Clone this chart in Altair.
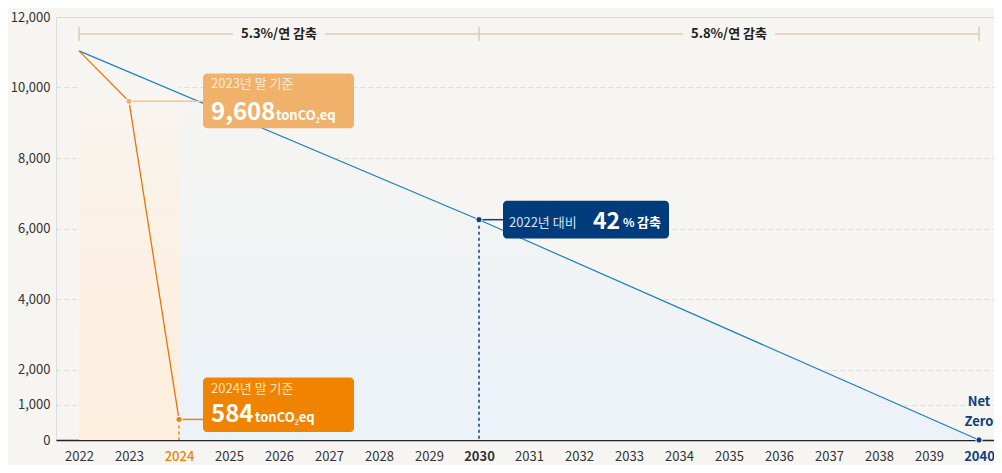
import altair as alt
import pandas as pd

# ---------------- data ----------------
years = list(range(2022, 2041))
blue_years = [2022, 2030, 2040]
blue_vals = [11040, 6250, 0]
orange_years = [2022, 2023, 2024]
orange_vals = [11040, 9608, 584]
y_ticks = [0, 1000, 2000, 4000, 6000, 8000, 10000, 12000]

# bracket annotation (5.3% / 5.8%)
bracket_y = 11520
bracket_seg_x = [2022, 2026.92, 2035.92]
bracket_seg_x2 = [2025.08, 2034.08, 2040]
bracket_ticks = [2022, 2030, 2040]
bracket_labels = ["5.3%/연 감축", "5.8%/연 감축"]
bracket_label_x = [2026.0, 2035.0]

# callout boxes
box_x = [2024.48, 2024.48, 2030.48]
box_x2 = [2027.5, 2027.5, 2033.8]
box_y = [8845, 225, 5718]
box_y2 = [10394, 1775, 6789]
box_col = ["#f0b26b", "#f08300", "#003b7c"]

BG = "#f7f5f1"
FONT = "Noto Sans CJK KR"
NAVY = "#0d3f80"
ORANGE = "#f08300"

xs = alt.Scale(domain=[2021.54, 2040.3], nice=False, zero=False)
ys = alt.Scale(domain=[0, 12000], nice=False)

xaxis = alt.Axis(
    values=years, format="d", title=None, ticks=False, grid=False,
    domainColor="#222222", domainWidth=1.5, labelFontSize=13, labelPadding=10,
    labelFont=FONT,
    labelColor={"expr": "datum.value == 2024 ? '#f08300' : datum.value == 2040 ? '#0d3f80' : '#333333'"},
    labelFontWeight={"expr": "(datum.value == 2030 || datum.value == 2040) ? 'bold' : (datum.value == 2024 ? 500 : 'normal')"},
)
yaxis = alt.Axis(
    values=y_ticks, format=",d", title=None, ticks=False, domain=False,
    grid=True, gridDash=[4, 4], gridColor="#d9d9d9", gridWidth=1,
    labelFontSize=13, labelPadding=6, labelColor="#333333", labelFont=FONT,
)


def X(f="x"):
    return alt.X(f"{f}:Q", scale=xs, axis=xaxis)


def Y(f="y"):
    return alt.Y(f"{f}:Q", scale=ys, axis=yaxis)


# ---------------- background tints ----------------
blue_df = pd.DataFrame({"x": blue_years, "y": blue_vals})
blue_area = alt.Chart(blue_df).mark_area(
    fill=alt.LinearGradient(
        gradient="linear", x1=0, y1=0, x2=0, y2=1,
        stops=[alt.GradientStop(color=BG, offset=0),
               alt.GradientStop(color="#f3f4f3", offset=0.35),
               alt.GradientStop(color="#ebf2f8", offset=1)],
    )
).encode(x=X(), y=Y())

orange_rect_df = pd.DataFrame({"x": [2022], "x2": [2024], "y": [0], "y2": [orange_vals[0]]})
orange_rect = alt.Chart(orange_rect_df).mark_rect(
    fill=alt.LinearGradient(
        gradient="linear", x1=0, y1=0, x2=0, y2=1,
        stops=[alt.GradientStop(color=BG, offset=0),
               alt.GradientStop(color=BG, offset=0.1),
               alt.GradientStop(color="#fbf1e5", offset=0.45),
               alt.GradientStop(color="#fdeedd", offset=1)],
    )
).encode(x=X(), x2="x2:Q", y=Y(), y2="y2:Q")

# ---------------- bracket ----------------
seg_df = pd.DataFrame({"x": bracket_seg_x, "x2": bracket_seg_x2, "y": [bracket_y] * 3})
bracket_segs = alt.Chart(seg_df).mark_rule(color="#dccbb4", strokeWidth=1.5).encode(
    x=X(), x2="x2:Q", y=Y())
tick_df = pd.DataFrame({"x": bracket_ticks, "y": [bracket_y - 200] * 3, "y2": [bracket_y + 200] * 3})
bracket_ticks_l = alt.Chart(tick_df).mark_rule(color="#dccbb4", strokeWidth=1.5).encode(
    x=X(), y=Y(), y2="y2:Q")
blab_df = pd.DataFrame({"x": bracket_label_x, "y": [bracket_y] * 2, "t": bracket_labels})
bracket_text = alt.Chart(blab_df).mark_text(
    font=FONT, fontSize=13, fontWeight="bold", color="#222222", baseline="middle", align="center"
).encode(x=X(), y=Y(), text="t:N")

# ---------------- lines ----------------
blue_line = alt.Chart(blue_df).mark_line(color="#1a7fc4", strokeWidth=1.2).encode(x=X(), y=Y())
orange_df = pd.DataFrame({"x": orange_years, "y": orange_vals})
orange_line = alt.Chart(orange_df).mark_line(color="#e8730f", strokeWidth=1.3).encode(x=X(), y=Y())

# dashed drops
drop_df = pd.DataFrame({"x": [2024, 2030], "y": [584, 6250], "y2": [0, 0], "c": [ORANGE, NAVY]})
drops = alt.Chart(drop_df).mark_rule(strokeDash=[3, 3], strokeWidth=1.5).encode(
    x=X(), y=Y(), y2="y2:Q", color=alt.Color("c:N", scale=None))

# connectors
conn_df = pd.DataFrame({"x": [2023, 2024, 2030], "x2": box_x, "y": [9608, 584, 6250],
                        "c": ["#f5c58a", ORANGE, NAVY]})
connectors = alt.Chart(conn_df).mark_rule(strokeWidth=1.5).encode(
    x=X(), x2="x2:Q", y=Y(), color=alt.Color("c:N", scale=None))

# boxes
box_df = pd.DataFrame({"x": box_x, "x2": box_x2, "y": box_y, "y2": box_y2, "c": box_col})
boxes = alt.Chart(box_df).mark_rect(cornerRadius=4).encode(
    x=X(), x2="x2:Q", y=Y(), y2="y2:Q", color=alt.Color("c:N", scale=None))

# dots
dot_df = pd.DataFrame({"x": [2023, 2024, 2030, 2040], "y": [9608, 584, 6250, 0],
                       "c": ["#f0b26b", ORANGE, NAVY, NAVY]})
dots = alt.Chart(dot_df).mark_point(filled=True, size=40, opacity=1, stroke="white", strokeWidth=1).encode(
    x=X(), y=Y(), fill=alt.Color("c:N", scale=None))


# ---------------- texts ----------------
def txt(xv, yv, t, size, weight, color, align="left", dx=0):
    d = pd.DataFrame({"x": [xv], "y": [yv], "t": [t]})
    return alt.Chart(d).mark_text(
        font=FONT, fontSize=size, fontWeight=weight, color=color,
        align=align, baseline="alphabetic", dx=dx
    ).encode(x=X(), y=Y(), text="t:N")


texts = [
    txt(2024.64, 10000, "2023년 말 기준", 13, "normal", "#fdebd3"),
    txt(2024.64, 9080, "9,608", 24, "bold", "white"),
    txt(2024.64, 9080, "tonCO₂eq", 13, "bold", "white", dx=65),
    txt(2024.64, 1340, "2024년 말 기준", 13, "normal", "#fde3c4"),
    txt(2024.64, 507, "584", 24, "bold", "white"),
    txt(2024.64, 507, "tonCO₂eq", 13, "bold", "white", dx=44),
    txt(2030.6, 6056, "2022년 대비", 13, "normal", "#d6e2f0"),
    txt(2032.28, 6000, "42", 23, "bold", "white"),
    txt(2032.28, 6056, "%", 12, "bold", "white", dx=30),
    txt(2032.28, 6056, "감축", 13, "bold", "white", dx=44),
    txt(2040, 958, "Net", 13, "bold", NAVY, align="center"),
    txt(2040, 394, "Zero", 13, "bold", NAVY, align="center"),
]

chart = alt.layer(
    blue_area, orange_rect, bracket_segs, bracket_ticks_l, bracket_text,
    drops, blue_line, orange_line, connectors, boxes, dots, *texts
).properties(
    width=938, height=423,
    autosize=alt.AutoSizeParams(type="none"),
    padding={"left": 48, "top": 9, "right": 0, "bottom": 25},
    background=BG,
).configure_view(stroke=None).configure(font=FONT)

chart.save("out.html", embed_options={"renderer": "svg", "actions": False})
